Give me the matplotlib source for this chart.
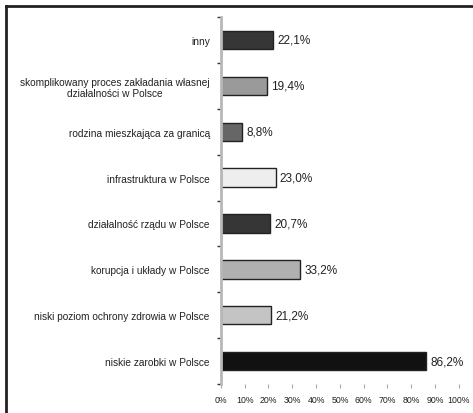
import matplotlib
matplotlib.use("Agg")
import matplotlib.pyplot as plt
from matplotlib.lines import Line2D
import numpy as np

categories = [
    "inny",
    "skomplikowany proces zakładania własnej\ndziałalności w Polsce",
    "rodzina mieszkająca za granicą",
    "infrastruktura w Polsce",
    "działalność rządu w Polsce",
    "korupcja i układy w Polsce",
    "niski poziom ochrony zdrowia w Polsce",
    "niskie zarobki w Polsce",
]
values = [22.1, 19.4, 8.8, 23.0, 20.7, 33.2, 21.2, 86.2]
value_labels = ["22,1%", "19,4%", "8,8%", "23,0%", "20,7%", "33,2%", "21,2%", "86,2%"]
bar_colors = ["#363636", "#9a9a9a", "#666666", "#eeeeee", "#363636", "#b0b0b0", "#c4c4c4", "#111111"]
x_ticks = [0, 10, 20, 30, 40, 50, 60, 70, 80, 90, 100]
x_tick_labels = ["0%", "10%", "20%", "30%", "40%", "50%", "60%", "70%", "80%", "90%", "100%"]

plt.rcParams['font.family'] = ['Liberation Sans', 'DejaVu Sans']

fig = plt.figure(figsize=(4.73, 4.14), dpi=100)
ax = fig.add_axes([0.467, 0.070, 0.503, 0.8865])

y = np.arange(len(categories))
ax.barh(y, values, height=0.4, color=bar_colors, edgecolor="#222222", linewidth=1.0)

for yi, v, lab in zip(y, values, value_labels):
    ax.text(v + 1.8, yi, lab, va="center", ha="left", fontsize=8.5, color="#222222")

ax.set_xlim(0, 100)
ax.set_ylim(len(categories) - 0.5, -0.5)
ax.set_yticks(y)
ax.set_yticklabels(categories, fontsize=7.3, color="#222222", ha="right")
ax.tick_params(axis="y", which="major", length=0, pad=8)
ax.set_yticks(np.arange(len(categories) + 1) - 0.5, minor=True)
ax.tick_params(axis="y", which="minor", length=3, width=1.0, color="#333333", direction="out")
for lbl in ax.get_yticklabels():
    lbl.set_multialignment("center")

ax.set_xticks(x_ticks)
ax.set_xticklabels(x_tick_labels, fontsize=6.3, color="#222222")
ax.tick_params(axis="x", length=3, width=0.8, color="#aaaaaa", direction="out", pad=5)

for s in ["top", "right", "bottom"]:
    ax.spines[s].set_visible(False)
ax.spines["left"].set_color("#b8b8b8")
ax.spines["left"].set_linewidth(2)

# outer frame lines (top and left)
fig.add_artist(Line2D([6/473, 6/473], [0, 1 - 7/414], transform=fig.transFigure, color="#222222", linewidth=2))
fig.add_artist(Line2D([6/473, 1], [1 - 7/414, 1 - 7/414], transform=fig.transFigure, color="#222222", linewidth=2))

fig.savefig("out.png", dpi=100, facecolor="white")
